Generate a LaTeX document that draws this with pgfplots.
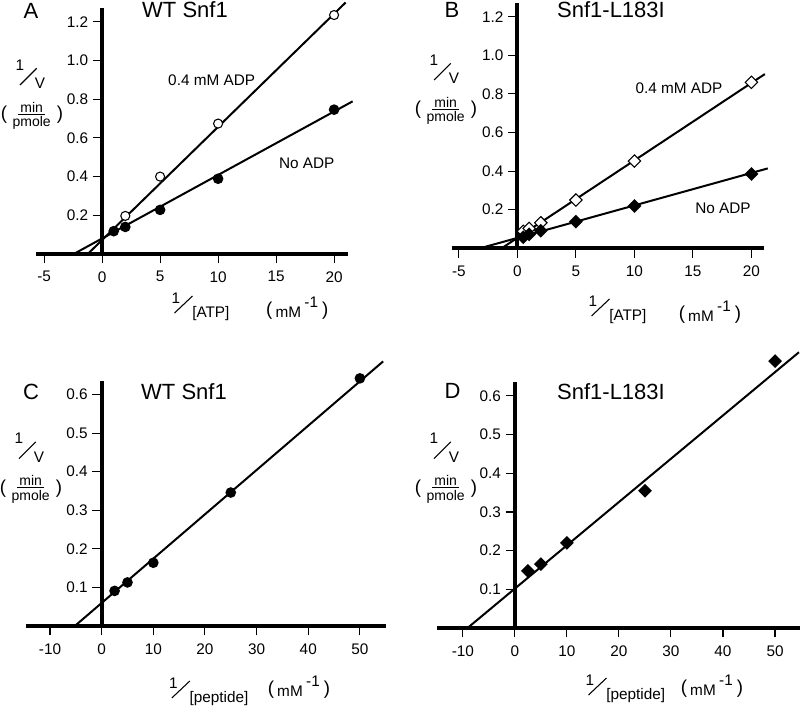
\documentclass[border=0pt]{standalone}
\usepackage{pgfplots}
\pgfplotsset{compat=1.18}
\usepackage{fontspec}
\setmainfont{Liberation Sans}
\usetikzlibrary{calc}

% Lineweaver-Burk panels, positions measured in pixels of the 800x707 figure
\pgfplotsset{
  lbplot/.style={
    scale only axis, clip=false,
    axis x line=bottom, axis y line=middle,
    axis line style={-, line width=3pt},
    xtick align=outside, ytick align=outside,
    hide obscured x ticks=false,
    every tick/.style={black, line width=0.8pt},
    major tick length=7pt,
    ymin=0,
    /pgf/number format/assume math mode=true,
    tick label style={font=\fontsize{11.5}{13}\selectfont},
    xticklabel style={yshift=-2.5pt},
    yticklabel style={/pgf/number format/.cd, fixed, fixed zerofill, precision=1},
    every axis plot/.append style={line width=1.5pt, black},
  },
  fit/.style={no marks},
  opencirc/.style={only marks, mark=*, mark size=3.4pt, mark options={fill=white, draw=black, line width=0.8pt}},
  fillcirc/.style={only marks, mark=*, mark size=3.2pt, mark options={fill=black, draw=black}},
  opendiam/.style={only marks, mark=square*, mark size=3.3pt, mark options={rotate=45, fill=white, draw=black, line width=0.8pt}},
  filldiam/.style={only marks, mark=square*, mark size=2.9pt, mark options={rotate=45, fill=black, draw=black}},
}

\tikzset{
  lab/.style={font=\fontsize{11.5}{13}\selectfont, inner sep=0pt},
  frac/.style={font=\fontsize{10.5}{12}\selectfont, inner sep=0pt},
  big/.style={font=\fontsize{16.5}{19}\selectfont, inner sep=0pt},
  paren/.style={font=\fontsize{14}{16}\selectfont, inner sep=0pt},
}

\newcommand{\ylab}[2]{%
  \node[lab] at (#1,#2) {1};
  \draw[line width=0.8pt] ($(#1,#2)+(0,20)$) -- ($(#1,#2)+(16.7,3.3)$);
  \node[lab] at ($(#1,#2)+(20,18.3)$) {V};
  \node[paren] at ($(#1,#2)+(-16,50)$) {(};
  \node[frac] at ($(#1,#2)+(11.7,42.3)$) {min};
  \draw[line width=0.6pt] ($(#1,#2)+(-1.7,49)$) -- ($(#1,#2)+(25,49)$);
  \node[frac] at ($(#1,#2)+(11.7,58.2)$) {pmole};
  \node[paren] at ($(#1,#2)+(40,50)$) {)};
}

\newcommand{\xlab}[5]{%
  \node[lab] at (#1,#2) {1};
  \draw[line width=0.8pt] ($(#1,#2)+(-1.5,15)$) -- ($(#1,#2)+(16.5,-2)$);
  \node[lab, anchor=west] at ($(#1,#2)+(16,16)$) {#3};
  \node[paren] at (#4,#5) {(};
  \node[lab] at ($(#4,#5)+(19,1.5)$) {mM};
  \node[lab] at ($(#4,#5)+(42,-8.5)$) {-1};
  \node[paren] at ($(#4,#5)+(56,0)$) {)};
}

\begin{document}
\begin{tikzpicture}
\useasboundingbox (0,0) rectangle (600pt,-530.25pt);

% ---- A: WT Snf1, ATP
\begin{axis}[lbplot, at={(27pt,-190.5pt)}, anchor=south west,
  width=234pt, height=184.3pt,
  xmin=-5.7, xmax=21.2, ymax=1.27,
  xtick={-5,0,5,10,15,20}, ytick={0.2,0.4,0.6,0.8,1.0,1.2}]
  \addplot[fit] coordinates {(-1.24,0) (21.0,1.30)};
  \addplot[fit] coordinates {(-2.45,0) (21.6,0.789)};
  \addplot[opencirc] coordinates {(2,0.197) (5,0.40) (10,0.674) (20,1.235)};
  \addplot[fillcirc] coordinates {(1,0.118) (2,0.14) (5,0.228) (10,0.389) (20,0.746)};
\end{axis}

% ---- B: Snf1-L183I, ATP
\begin{axis}[lbplot, at={(339.2pt,-186.2pt)}, anchor=south west,
  width=234pt, height=183.75pt,
  xmin=-5.57, xmax=21.1, ymax=1.27,
  xtick={-5,0,5,10,15,20}, ytick={0.2,0.4,0.6,0.8,1.0,1.2}]
  \addplot[fit] coordinates {(-1.35,0) (21.15,0.903)};
  \addplot[fit] coordinates {(-3.2,0) (21.4,0.414)};
  \addplot[opendiam] coordinates {(0.5,0.088) (1,0.103) (2,0.132) (5,0.25) (10,0.452) (20,0.86)};
  \addplot[filldiam] coordinates {(0.5,0.057) (1,0.072) (2,0.091) (5,0.138) (10,0.219) (20,0.385)};
\end{axis}

% ---- C: WT Snf1, peptide
\begin{axis}[lbplot, at={(19.5pt,-469.5pt)}, anchor=south west,
  width=269.8pt, height=184pt,
  xmin=-14.65, xmax=55, ymax=0.636,
  xtick={-10,0,10,20,30,40,50}, ytick={0.1,0.2,0.3,0.4,0.5,0.6}]
  \addplot[fit] coordinates {(-5.2,0) (54.5,0.686)};
  \addplot[fillcirc] coordinates {(2.5,0.091) (5,0.113) (10,0.164) (25,0.346) (50,0.642)};
\end{axis}

% ---- D: Snf1-L183I, peptide
\begin{axis}[lbplot, at={(328pt,-471pt)}, anchor=south west,
  width=272pt, height=184.5pt,
  xmin=-14.9, xmax=54.8, ymax=0.636,
  xtick={-10,0,10,20,30,40,50}, ytick={0.1,0.2,0.3,0.4,0.5,0.6}]
  \addplot[fit] coordinates {(-9.1,0) (54.6,0.713)};
  \addplot[filldiam] coordinates {(2.5,0.148) (5,0.165) (10,0.220) (25,0.355) (50,0.690)};
\end{axis}

\begin{scope}[x=0.75pt, y=-0.75pt]
  \node[big] at (31,11) {A};
  \node[big] at (452,10) {B};
  \node[big] at (31,391.7) {C};
  \node[big] at (452.5,391) {D};
  \node[big] at (185,10) {WT Snf1};
  \node[big] at (611,10) {Snf1-L183I};
  \node[big] at (184,391.7) {WT Snf1};
  \node[big] at (611,391.7) {Snf1-L183I};

  \node[lab] at (211.7,80) {0.4 mM ADP};
  \node[lab] at (306.7,163.3) {No ADP};
  \node[lab] at (679,88.3) {0.4 mM ADP};
  \node[lab] at (723,208.3) {No ADP};

  \ylab{20}{65}
  \ylab{434}{60}
  \ylab{19}{438.5}
  \ylab{434}{438.5}

  \xlab{176}{298}{[ATP]}{269.3}{311}
  \xlab{593}{301}{[ATP]}{682}{315}
  \xlab{173.3}{683}{[peptide]}{271}{690}
  \xlab{590}{680}{[peptide]}{684}{688.3}
\end{scope}
\end{tikzpicture}
\end{document}
